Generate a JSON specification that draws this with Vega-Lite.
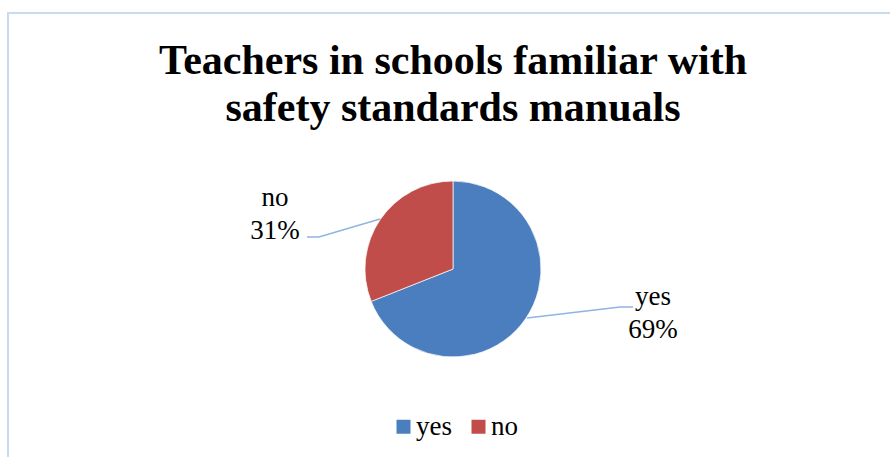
{
  "$schema": "https://vega.github.io/schema/vega-lite/v6.json",
  "width": 890,
  "height": 512,
  "autosize": {"type": "none"},
  "padding": {"left": 8, "top": 13, "right": 0, "bottom": 0},
  "background": "white",
  "title": {
    "text": ["Teachers in schools familiar with", "safety standards manuals"],
    "font": "Liberation Serif",
    "fontSize": 42,
    "fontWeight": "bold",
    "color": "black",
    "lineHeight": 47,
    "anchor": "middle",
    "frame": "group",
    "orient": "top",
    "baseline": "top",
    "offset": -117
  },
  "datasets": {
    "slices": [
      {"answer": "yes", "share": 69, "rank": 1},
      {"answer": "no", "share": 31, "rank": 2}
    ],
    "leaders": [
      {"answer": "no", "seq": 1, "px": -0.83, "py": 0.568},
      {"answer": "no", "seq": 2, "px": -1.523, "py": 0.364},
      {"answer": "no", "seq": 3, "px": -1.659, "py": 0.364},
      {"answer": "yes", "seq": 1, "px": 0.841, "py": -0.557},
      {"answer": "yes", "seq": 2, "px": 1.898, "py": -0.432},
      {"answer": "yes", "seq": 3, "px": 2.045, "py": -0.432}
    ],
    "labels": [
      {"answer": "no", "label": "no\n31%", "px": -2.023, "py": 0.716},
      {"answer": "yes", "label": "yes\n69%", "px": 2.273, "py": -0.409}
    ]
  },
  "layer": [
    {
      "data": {"name": "slices"},
      "mark": {"type": "arc", "outerRadius": 88, "stroke": "white", "strokeWidth": 0.7},
      "encoding": {
        "theta": {"field": "share", "type": "quantitative", "stack": true},
        "order": {"field": "rank", "type": "quantitative"},
        "color": {
          "field": "answer",
          "type": "nominal",
          "scale": {"domain": ["yes", "no"], "range": ["#4A7EBF", "#C04D4A"]},
          "legend": {
            "title": null,
            "orient": "none",
            "direction": "horizontal",
            "legendX": 382,
            "legendY": 400,
            "symbolType": "square",
            "symbolSize": 196,
            "symbolStrokeWidth": 0,
            "labelFont": "Liberation Serif",
            "labelFontSize": 27,
            "labelColor": "black",
            "columnPadding": 13,
            "labelOffset": -1
          }
        }
      }
    },
    {
      "data": {"name": "leaders"},
      "mark": {"type": "line", "color": "#8EB4E3", "strokeWidth": 1.5},
      "encoding": {
        "x": {"field": "px", "type": "quantitative", "scale": {"domain": [-5.057, 5.057], "nice": false, "zero": false}, "axis": null},
        "y": {"field": "py", "type": "quantitative", "scale": {"domain": [-2.909, 2.909], "nice": false, "zero": false}, "axis": null},
        "detail": {"field": "answer"},
        "order": {"field": "seq", "type": "quantitative"}
      }
    },
    {
      "data": {"name": "labels"},
      "mark": {"type": "text", "font": "Liberation Serif", "fontSize": 27, "color": "black", "align": "center", "baseline": "alphabetic", "lineBreak": "\n", "lineHeight": 33},
      "encoding": {
        "x": {"field": "px", "type": "quantitative", "axis": null},
        "y": {"field": "py", "type": "quantitative", "axis": null},
        "text": {"field": "label"}
      }
    }
  ],
  "config": {
    "font": "Liberation Serif",
    "view": {"stroke": "#C9DBF0", "strokeWidth": 2}
  }
}
